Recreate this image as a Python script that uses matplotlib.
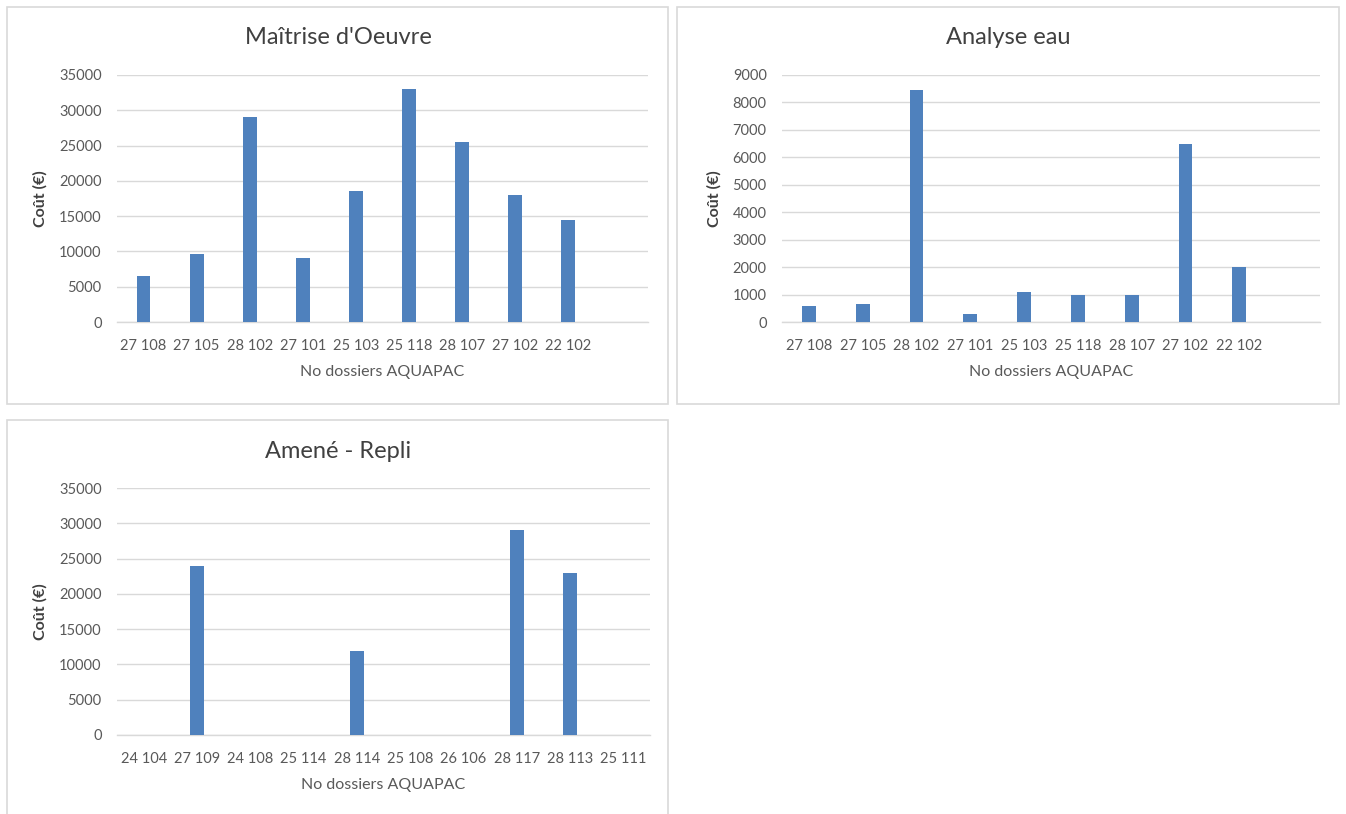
import matplotlib.pyplot as plt
from matplotlib.patches import Rectangle

plt.rcParams['font.family'] = ['Lato', 'DejaVu Sans']

# Maîtrise d'Oeuvre
moe_labels = ['27 108', '27 105', '28 102', '27 101', '25 103', '25 118', '28 107', '27 102', '22 102', '']
moe_values = [6500, 9700, 29000, 9000, 18500, 33000, 25500, 18000, 14400, 0]

# Analyse eau
eau_labels = ['27 108', '27 105', '28 102', '27 101', '25 103', '25 118', '28 107', '27 102', '22 102', '']
eau_values = [600, 650, 8450, 280, 1100, 1000, 970, 6500, 2000, 0]

# Amené - Repli
rep_labels = ['24 104', '27 109', '24 108', '25 114', '28 114', '25 108', '26 106', '28 117', '28 113', '25 111']
rep_values = [0, 24000, 0, 0, 11900, 0, 0, 29100, 23000, 0]

W, H = 1346, 814
BAR = '#4f81bd'
GRID = '#d9d9d9'
TXT = '#595959'

fig = plt.figure(figsize=(W / 100, H / 100), dpi=100)


def px_axes(x0, x1, ytop, ybot):
    return fig.add_axes([x0 / W, 1 - ybot / H, (x1 - x0) / W, (ybot - ytop) / H])


def box(x0, y0, x1, y1):
    fig.patches.append(Rectangle((x0 / W, 1 - y1 / H), (x1 - x0) / W, (y1 - y0) / H,
                                 transform=fig.transFigure, fill=False,
                                 edgecolor=GRID, linewidth=1.2))


def chart(ax, labels, values, ymax, step, title, tx, ty):
    x = range(len(labels))
    ax.bar(x, values, width=0.26, color=BAR, zorder=3)
    ax.set_xlim(-0.5, len(labels) - 0.5)
    ax.set_ylim(0, ymax)
    ax.set_yticks(range(0, ymax + 1, step))
    ax.set_xticks(list(x))
    ax.set_xticklabels(labels)
    ax.grid(axis='y', color=GRID, linewidth=1, zorder=0)
    for s in ['top', 'right', 'left']:
        ax.spines[s].set_visible(False)
    ax.spines['bottom'].set_color(GRID)
    ax.spines['bottom'].set_linewidth(1)
    ax.tick_params(length=0, labelsize=10.5, colors=TXT)
    ax.tick_params(axis='x', pad=12)
    ax.tick_params(axis='y', pad=11)
    ax.set_xlabel('No dossiers AQUAPAC', fontsize=11.5, color=TXT, labelpad=9)
    ax.set_ylabel('Coût (€)', fontsize=11.5, color='#404040', fontweight='bold', labelpad=8)
    fig.text(tx / W, 1 - ty / H, title, ha='center', va='center', fontsize=17, color='#404040')


box(7, 7, 668, 404)
box(677, 7, 1339, 404)
box(7, 420, 668, 830)

ax1 = px_axes(117, 648, 75, 322)
chart(ax1, moe_labels, moe_values, 35000, 5000, "Maîtrise d'Oeuvre", 338, 38)

ax2 = px_axes(782, 1320, 75, 322)
chart(ax2, eau_labels, eau_values, 9000, 1000, 'Analyse eau', 1008, 38)

ax3 = px_axes(117, 650, 488, 735)
chart(ax3, rep_labels, rep_values, 35000, 5000, 'Amené - Repli', 338, 451)

fig.savefig('out.png', dpi=100)
